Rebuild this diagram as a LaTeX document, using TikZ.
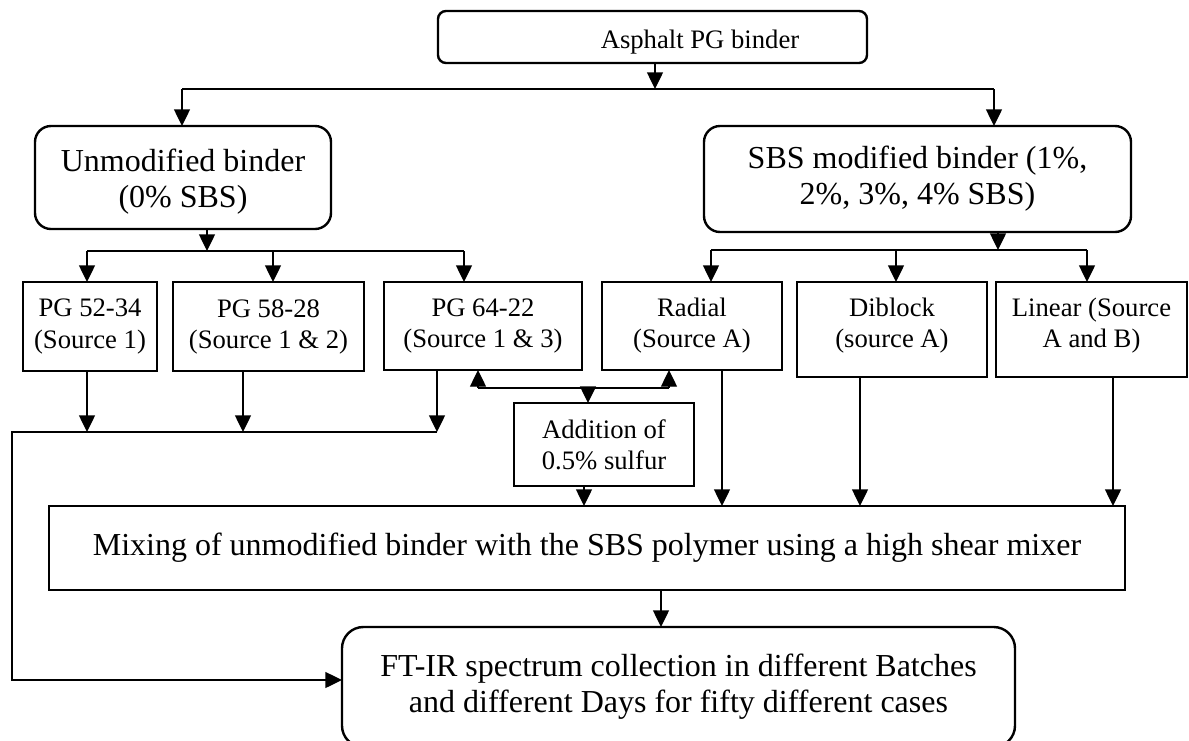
\documentclass[tikz,border=0pt]{standalone}
\usepackage{fontspec}
\setmainfont{Liberation Serif}
\usetikzlibrary{arrows.meta,calc}
\begin{document}
\begin{tikzpicture}[x=0.75pt,y=-0.75pt,
  dim/.style 2 args={minimum width={#1*0.75pt},minimum height={#2*0.75pt}},
  base/.style={draw,outer sep=0pt,inner sep=2pt,align=center},
  smallbox/.style={base,line width=1pt,font=\fontsize{20}{23.3}\selectfont},
  bigbox/.style={base,line width=1.8pt,rounded corners=12pt,font=\fontsize{24}{27}\selectfont},
  mixbox/.style={base,line width=1.5pt,font=\fontsize{24}{27}\selectfont},
  smalltxt/.style={inner sep=0pt,align=center,font=\fontsize{20}{23.3}\selectfont},
  bigtxt/.style={inner sep=0pt,align=center,font=\fontsize{24}{27}\selectfont},
  conn/.style={line width=1pt},
  arr/.style={conn,-{Triangle[length=12.5pt,width=12pt]}}]
\useasboundingbox (0,0) rectangle (1189,740);

% nodes
\node[base,line width=1.8pt,rounded corners=6pt,dim={429}{52}] (top) at (652.5,37) {};
\node[anchor=base,smalltxt] (toptxt) at (700,48) {Asphalt PG binder};

\node[bigbox,dim={296}{103}] (unmod) at (183,177.5) {};
\node[bigtxt] (unmodtxt) at (183,182) {Unmodified binder\\(0\% SBS)};
\node[bigbox,dim={427}{106}] (sbs) at (917.5,179) {SBS modified binder (1\%,\\2\%, 3\%, 4\% SBS)};

\node[smallbox,dim={134}{89}] (pg1) at (90,326.5) {PG 52-34\\(Source 1)};
\node[smallbox,dim={191}{89}] (pg2) at (268.5,326.5) {PG 58-28\\(Source 1 \& 2)};
\node[smallbox,dim={198}{88}] (pg3) at (483,326) {PG 64-22\\(Source 1 \& 3)};
\node[smallbox,dim={180}{88}] (radial) at (692,326) {Radial\\(Source A)};
\node[smallbox,dim={190}{95}] (diblock) at (892,329.5) {};
\node[smalltxt] (diblocktxt) at (892,326) {Diblock\\(source A)};
\node[smallbox,dim={191}{95}] (linear) at (1091.5,329.5) {};
\node[smalltxt] (lineartxt) at (1091.5,326) {Linear (Source\\A and B)};

\node[smallbox,dim={180}{83}] (sulfur) at (604,444.5) {Addition of\\0.5\% sulfur};

\node[mixbox,dim={1076}{84}] (mix) at (587,548) {Mixing of unmodified binder with the SBS polymer using a high shear mixer};

\node[bigbox,rounded corners=16pt,dim={673}{120}] (ftir) at (678.5,687) {FT-IR spectrum collection in different Batches\\and different Days for fifty different cases};

% junction coordinates
\coordinate (h0) at (655,89);
\coordinate (hL) at (182,89);
\coordinate (hR) at (994,89);
\coordinate (u0) at (207,251);
\coordinate (uL) at (87,251);
\coordinate (uM) at (273,251);
\coordinate (uR) at (464,251);
\coordinate (s0) at (998,250);
\coordinate (sL) at (711,250);
\coordinate (sM) at (896,250);
\coordinate (sR) at (1087,250);
\coordinate (c1) at (87,432);
\coordinate (c2) at (243,432);
\coordinate (c3) at (437,432);
\coordinate (cL) at (12,432);
\coordinate (cB) at (12,680);
\coordinate (sa) at (478,388);
\coordinate (sb) at (669,388);
\coordinate (sc) at (588,388);
\coordinate (m1) at (584,506);
\coordinate (m2) at (722,506);
\coordinate (m3) at (860,506);
\coordinate (m4) at (1113,506);
\coordinate (f0) at (661,627);

% connectors
\draw[arr] (top.south -| h0) -- (h0);
\draw[conn] (hL) -- (hR);
\draw[arr] (hL) -- (hL |- unmod.north);
\draw[arr] (hR) -- (hR |- sbs.north);

\draw[arr] (unmod.south -| u0) -- (u0);
\draw[conn] (uL) -- (uR);
\draw[arr] (uL) -- (uL |- pg1.north);
\draw[arr] (uM) -- (uM |- pg2.north);
\draw[arr] (uR) -- (uR |- pg3.north);

\draw[arr] (sbs.south -| s0) -- (s0);
\draw[conn] (sL) -- (sR);
\draw[arr] (sL) -- (sL |- radial.north);
\draw[arr] (sM) -- (sM |- diblock.north);
\draw[arr] (sR) -- (sR |- linear.north);

\draw[arr] (pg1.south -| c1) -- (c1);
\draw[arr] (pg2.south -| c2) -- (c2);
\draw[arr] (pg3.south -| c3) -- (c3);
\draw[arr] (c3) -- (cL) -- (cB) -- (ftir.west |- cB);

\draw[conn] (sa) -- (sb);
\draw[arr] (sa) -- (sa |- pg3.south);
\draw[arr] (sb) -- (sb |- radial.south);
\draw[arr] (sc) -- (sc |- sulfur.north);

\draw[arr] (sulfur.south -| m1) -- (m1);
\draw[arr] (radial.south -| m2) -- (m2);
\draw[arr] (diblock.south -| m3) -- (m3);
\draw[arr] (linear.south -| m4) -- (m4);

\draw[arr] (mix.south -| f0) -- (f0);
\end{tikzpicture}
\end{document}
